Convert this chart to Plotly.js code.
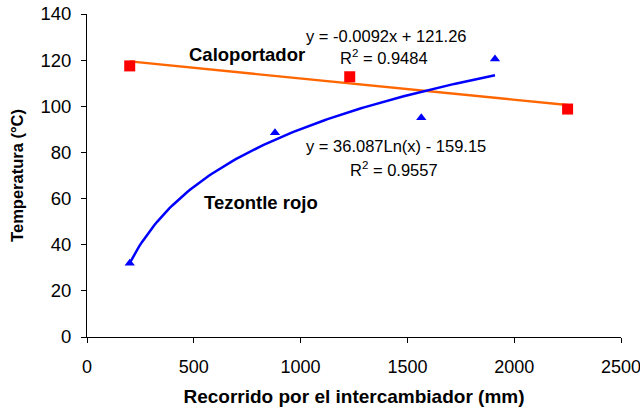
<!DOCTYPE html>
<html><head><meta charset="utf-8">
<script src="https://cdn.plot.ly/plotly-3.0.1.min.js"></script>
<style>html,body{margin:0;padding:0;background:#fff}#c{width:640px;height:413px}</style>
</head><body><div id="c"></div>
<script>
// Data
const caloX = [200, 1230, 2250];
const caloY = [117.5, 112.8, 98.8];
const tezX = [200, 880, 1565, 1910];
const tezY = [32, 88.5, 95, 120.5];
// Trendline coefficients as displayed on the chart
const caloLin = [-0.0092, 121.26];   // y = a*x + b
const tezLog = [36.087, -159.15];    // y = a*ln(x) + b

function range(a, b, n) { const r = []; for (let i = 0; i <= n; i++) r.push(a + (b - a) * i / n); return r; }
const caloFitX = [Math.min(...caloX), Math.max(...caloX)];
const caloFitY = caloFitX.map(x => caloLin[0] * x + caloLin[1]);
const tezFitX = range(Math.min(...tezX), Math.max(...tezX), 120);
const tezFitY = tezFitX.map(x => tezLog[0] * Math.log(x) + tezLog[1]);

const font = "Liberation Sans, Arial, sans-serif";
const traces = [
  {x: caloFitX, y: caloFitY, mode: 'lines', line: {color: '#FF6600', width: 2.3}, hoverinfo: 'skip'},
  {x: tezFitX, y: tezFitY, mode: 'lines', line: {color: '#0000FF', width: 2.5}, hoverinfo: 'skip'},
  {x: caloX, y: caloY, mode: 'markers', marker: {symbol: 'square', color: '#FF0000', size: 11}},
  {x: tezX, y: tezY, mode: 'markers', marker: {symbol: 'triangle-up', color: '#0000FF', size: 9}}
];
const ann = (x, y, text, bold, size) => ({x, y, xref: 'x', yref: 'y', text: bold ? '<b>' + text + '</b>' : text,
  showarrow: false, xanchor: 'center', yanchor: 'middle', font: {family: font, size: size, color: '#000'}});
const layout = {
  width: 640, height: 413,
  margin: {l: 87, r: 19, t: 14, b: 76},
  paper_bgcolor: '#fff', plot_bgcolor: '#fff',
  showlegend: false,
  font: {family: font, color: '#000'},
  xaxis: {range: [0, 2500], dtick: 500, showgrid: false, zeroline: false, showline: true, linecolor: '#000', linewidth: 1,
    ticks: 'outside', ticklen: 5, tickcolor: '#000', tickfont: {size: 18, family: font}, ticklabelstandoff: 8,
    ticklabeloverflow: 'allow', automargin: false,
    title: {text: '<b>Recorrido por el intercambiador (mm)</b>', font: {size: 19, family: font}, standoff: 14}},
  yaxis: {range: [0, 140], dtick: 20, showgrid: false, zeroline: false, showline: true, linecolor: '#000', linewidth: 1,
    ticks: 'outside', ticklen: 5, tickcolor: '#000', tickfont: {size: 18.5, family: font}, ticklabelstandoff: 6,
    title: {text: '<b>Temperatura (°C)</b>', font: {size: 16.5, family: font}, standoff: 12}},
  annotations: [
    ann(1404, 130.5, 'y = -0.0092x + 121.26', false, 16.5),
    ann(1390, 121.4, 'R<sup>2</sup> = 0.9484', false, 16.5),
    ann(749, 122.3, 'Caloportador', true, 18.5),
    ann(1447, 83, 'y = 36.087Ln(x) - 159.15', false, 16.5),
    ann(1437, 73, 'R<sup>2</sup> = 0.9557', false, 16.5),
    ann(815, 58.5, 'Tezontle rojo', true, 18.5)
  ]
};
Plotly.newPlot('c', traces, layout, {staticPlot: true});
</script></body></html>
